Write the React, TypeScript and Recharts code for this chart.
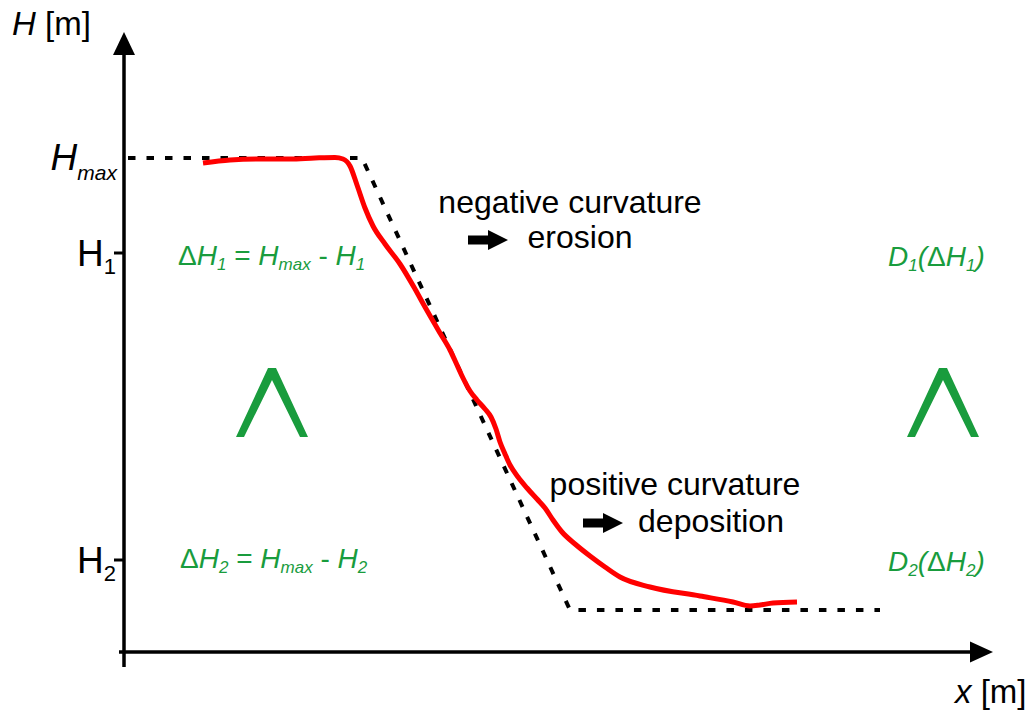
import React from 'react';
import { LineChart, Line, XAxis, YAxis, ReferenceLine, ReferenceDot } from 'recharts';

// Observed (red) hillslope profile: distance x and elevation H
const profileX = [79, 106, 136, 166, 191, 211, 219, 226, 233, 241, 249, 261, 276, 291, 301, 316, 326, 333, 339, 346, 353, 361, 367, 372, 376, 381, 386, 394, 403, 413, 421, 429, 438, 451, 466, 481, 496, 526, 576, 609, 626, 636, 649, 673];
const profileH = [489, 492, 493, 493, 494, 494.5, 493, 486, 467, 444, 426, 408, 388, 363, 345, 319, 302, 287, 274, 261, 252, 243, 235, 223, 210, 198, 187, 175, 164, 153, 144, 132, 120, 108, 96, 85, 75, 65, 56, 50, 46, 47, 49, 50];

// Idealised (dashed) profile
const idealX = [4, 238, 446, 756];
const idealH = [494, 494, 42, 42];

// Y tick values: H2, H1, Hmax
const tickValues = [92, 399, 494];
const tickNames = ['H2', 'H1', 'Hmax'];

const FONT = "'Liberation Sans', Arial, Helvetica, sans-serif";
const GREEN = '#199c3d';

const profileData = profileX.map((x, i) => ({ x, h: profileH[i] }));
const idealData = idealX.map((x, i) => ({ x, h: idealH[i] }));

const YTick = (props: any) => {
  const { x, y, payload } = props;
  const name = tickNames[tickValues.indexOf(payload.value)];
  if (name === 'Hmax') {
    return (
      <text x={x - 7} y={y + 12} textAnchor="end" fontFamily={FONT} fill="#000">
        <tspan fontSize={37} fontStyle="italic">H</tspan>
        <tspan fontSize={21} fontStyle="italic" dy={10}>max</tspan>
      </text>
    );
  }
  const sub = name.slice(1);
  return (
    <g>
      <line x1={x - 10} x2={x} y1={y} y2={y} stroke="#000" strokeWidth={3} />
      <text x={x - 8} y={y + 13} textAnchor="end" fontFamily={FONT} fill="#000">
        <tspan fontSize={37}>H</tspan>
        <tspan fontSize={22} dy={8}>{sub}</tspan>
      </text>
    </g>
  );
};

const txt = (content: React.ReactNode, anchor: string = 'start', size = 32, color = '#000') => (p: any) => (
  <text x={p.cx} y={p.cy} textAnchor={anchor} fontFamily={FONT} fontSize={size} fill={color} style={{ whiteSpace: 'pre' }}>
    {content}
  </text>
);

const blockArrow = (p: any) => {
  const tx = p.cx, ty = p.cy;
  const pts = [
    [tx - 40, ty - 4.5], [tx - 20, ty - 4.5], [tx - 20, ty - 10], [tx, ty],
    [tx - 20, ty + 10], [tx - 20, ty + 4.5], [tx - 40, ty + 4.5],
  ].map((q) => q.join(',')).join(' ');
  return <polygon points={pts} fill="#000" />;
};

const upHead = (p: any) => (
  <polygon points={`${p.cx},${p.cy} ${p.cx - 11},${p.cy + 23} ${p.cx + 11},${p.cy + 23}`} fill="#000" />
);
const rightHead = (p: any) => (
  <polygon points={`${p.cx},${p.cy} ${p.cx - 23},${p.cy - 10.5} ${p.cx - 23},${p.cy + 10.5}`} fill="#000" />
);

const chevron = (p: any) => {
  const ax = p.cx, ay = p.cy;
  const pts = [
    [ax - 36, ay + 69], [ax - 4, ay], [ax + 4, ay], [ax + 36, ay + 69],
    [ax + 28, ay + 69], [ax, ay + 12], [ax - 28, ay + 69],
  ].map((q) => q.join(',')).join(' ');
  return <polygon points={pts} fill={GREEN} />;
};

const sub = (s: string, italic = true) => (
  <tspan fontSize={17} fontStyle={italic ? 'italic' : 'normal'} dy={5}>{s}</tspan>
);

const deltaEq = (n: string) => (
  <>
    <tspan>Δ</tspan>
    <tspan fontStyle="italic">H</tspan>
    {sub(n)}
    <tspan dy={-5}>{' = '}</tspan>
    <tspan fontStyle="italic">H</tspan>
    {sub('max')}
    <tspan dy={-5}>{' - '}</tspan>
    <tspan fontStyle="italic">H</tspan>
    {sub(n)}
  </>
);

const dFunc = (n: string) => (
  <>
    <tspan fontStyle="italic">D</tspan>
    {sub(n)}
    <tspan dy={-5} fontStyle="italic">(</tspan>
    <tspan>Δ</tspan>
    <tspan fontStyle="italic">H</tspan>
    {sub(n)}
    <tspan dy={-5} fontStyle="italic">)</tspan>
  </>
);

export default function App() {
  return (
    <div style={{ position: 'absolute', left: 0, top: 0, background: '#fff' }}>
      <LineChart width={1031} height={713} margin={{ top: 32, right: 38, bottom: 61, left: 0 }}>
        <XAxis dataKey="x" type="number" domain={[0, 869]} allowDataOverflow hide />
        <YAxis
          type="number"
          domain={[0, 620]}
          allowDataOverflow
          width={124}
          ticks={tickValues}
          interval={0}
          axisLine={false}
          tickLine={false}
          tickSize={0}
          tickMargin={0}
          tick={<YTick />}
        />
        {/* axes */}
        <ReferenceLine segment={[{ x: 0, y: -15 }, { x: 0, y: 600 }]} stroke="#000" strokeWidth={3.5} ifOverflow="visible" />
        <ReferenceLine segment={[{ x: -5, y: 0 }, { x: 850, y: 0 }]} stroke="#000" strokeWidth={3.5} ifOverflow="visible" />
        <ReferenceDot x={0} y={620} r={0} ifOverflow="visible" shape={upHead} />
        <ReferenceDot x={869} y={0} r={0} ifOverflow="visible" shape={rightHead} />

        <Line data={idealData} dataKey="h" type="linear" stroke="#000" strokeWidth={4} strokeDasharray="7.5 11" dot={false} activeDot={false} isAnimationActive={false} />
        <Line data={profileData} dataKey="h" type="monotone" stroke="#ff0000" strokeWidth={5} dot={false} activeDot={false} isAnimationActive={false} />

        {/* axis titles */}
        <ReferenceDot x={-112} y={617} r={0} ifOverflow="visible" shape={txt(<><tspan fontStyle="italic">H</tspan><tspan>{' [m]'}</tspan></>, 'start', 33)} />
        <ReferenceDot x={831} y={-51} r={0} ifOverflow="visible" shape={txt(<><tspan fontStyle="italic">x</tspan><tspan>{' [m]'}</tspan></>, 'start', 33)} />

        {/* curvature annotations */}
        <ReferenceDot x={446} y={439} r={0} ifOverflow="visible" shape={txt('negative curvature', 'middle')} />
        <ReferenceDot x={456} y={404} r={0} ifOverflow="visible" shape={txt('erosion', 'middle')} />
        <ReferenceDot x={384} y={412} r={0} ifOverflow="visible" shape={blockArrow} />
        <ReferenceDot x={551} y={157} r={0} ifOverflow="visible" shape={txt('positive curvature', 'middle')} />
        <ReferenceDot x={587} y={120} r={0} ifOverflow="visible" shape={txt('deposition', 'middle')} />
        <ReferenceDot x={499} y={129} r={0} ifOverflow="visible" shape={blockArrow} />

        {/* green relations */}
        <ReferenceDot x={54} y={387} r={0} ifOverflow="visible" shape={txt(deltaEq('1'), 'start', 28, GREEN)} />
        <ReferenceDot x={56} y={84} r={0} ifOverflow="visible" shape={txt(deltaEq('2'), 'start', 28, GREEN)} />
        <ReferenceDot x={764} y={386} r={0} ifOverflow="visible" shape={txt(dFunc('1'), 'start', 28, GREEN)} />
        <ReferenceDot x={764} y={81} r={0} ifOverflow="visible" shape={txt(dFunc('2'), 'start', 28, GREEN)} />
        <ReferenceDot x={148} y={284} r={0} ifOverflow="visible" shape={chevron} />
        <ReferenceDot x={819} y={284} r={0} ifOverflow="visible" shape={chevron} />
      </LineChart>
    </div>
  );
}
